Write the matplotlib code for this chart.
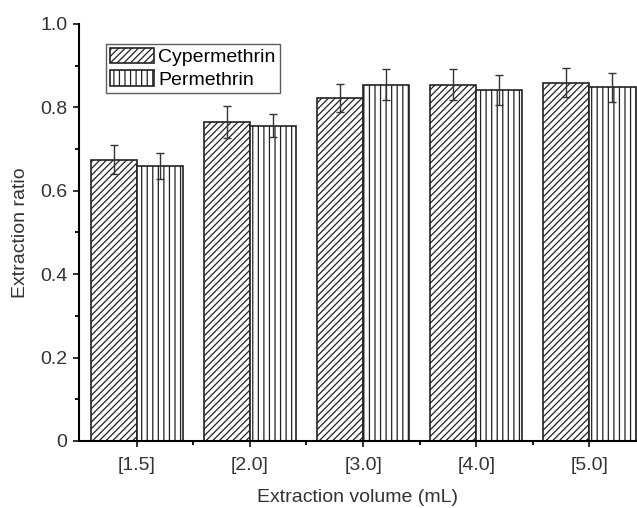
import matplotlib
matplotlib.use("Agg")
import matplotlib.pyplot as plt
import numpy as np

plt.rcParams['font.family'] = ['Liberation Sans', 'DejaVu Sans']
plt.rcParams['hatch.linewidth'] = 0.9

categories = ["[1.5]", "[2.0]", "[3.0]", "[4.0]", "[5.0]"]
cyp_vals = [0.674, 0.765, 0.822, 0.854, 0.859]
cyp_err = [0.035, 0.038, 0.033, 0.037, 0.035]
per_vals = [0.659, 0.756, 0.854, 0.842, 0.848]
per_err = [0.031, 0.028, 0.037, 0.036, 0.035]

fig = plt.figure(figsize=(6.37, 5.08), dpi=100)
ax = fig.add_axes([0.124, 0.132, 0.876, 0.821])

x = np.arange(len(categories))
w = 0.407
ax.bar(x, cyp_vals, width=-w, align='edge', facecolor='white', edgecolor='#222222',
       hatch='/////', linewidth=1.2, label='Cypermethrin')
ax.bar(x, per_vals, width=w, align='edge', facecolor='white', edgecolor='#222222',
       hatch='|||', linewidth=1.2, label='Permethrin')
ax.errorbar(x - w / 2, cyp_vals, yerr=cyp_err, fmt='none', ecolor='#333333',
            elinewidth=1.0, capsize=3, capthick=1.0)
ax.errorbar(x + w / 2, per_vals, yerr=per_err, fmt='none', ecolor='#333333',
            elinewidth=1.0, capsize=3, capthick=1.0)

ax.set_xlim(-0.51, 4.42)
ax.set_ylim(0, 1.0)
ax.set_xticks(x)
ax.set_xticklabels(categories)
ax.set_xticks(x[:-1] + 0.5, minor=True)
ax.set_yticks([0, 0.2, 0.4, 0.6, 0.8, 1.0])
ax.set_yticklabels(["0", "0.2", "0.4", "0.6", "0.8", "1.0"])
ax.set_yticks(np.arange(0.1, 1.0, 0.2), minor=True)

for s in ['top', 'right']:
    ax.spines[s].set_visible(False)
for s in ['left', 'bottom']:
    ax.spines[s].set_linewidth(1.5)
ax.tick_params(axis='both', which='major', direction='out', length=4.5, width=1.3,
               labelsize=14, colors='#222222', labelcolor='#333333', pad=4)
ax.tick_params(axis='x', which='major', pad=7)
ax.tick_params(axis='both', which='minor', direction='out', length=3, width=1.3)

ax.set_xlabel("Extraction volume (mL)", fontsize=14, color='#333333', labelpad=11)
ax.set_ylabel("Extraction ratio", fontsize=14, color='#333333', labelpad=8)

leg = ax.legend(loc='upper left', bbox_to_anchor=(0.048, 0.952), fontsize=14,
                frameon=True, fancybox=False, edgecolor='#333333', handlelength=2.3,
                handleheight=0.85, handletextpad=0.2, borderpad=0.2, labelspacing=0.2,
                borderaxespad=0)
leg.get_frame().set_linewidth(1.0)

fig.savefig("out.png", dpi=100)
